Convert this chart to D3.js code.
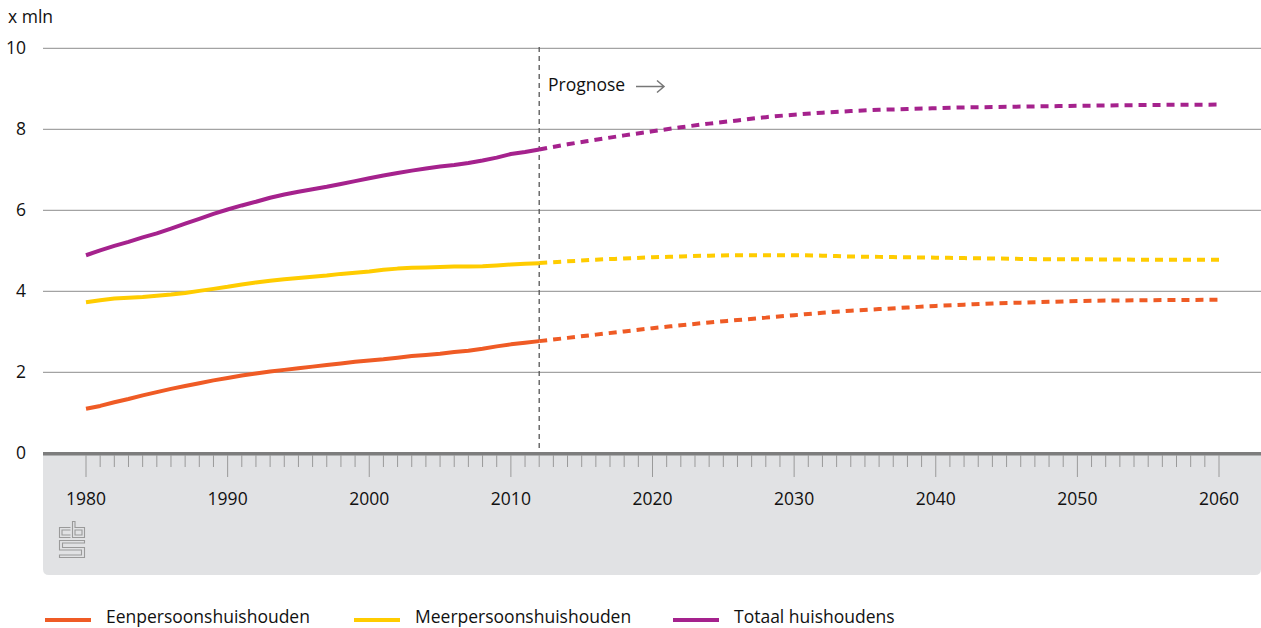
<!DOCTYPE html>
<html>
<head>
<meta charset="utf-8">
<script src="https://cdn.jsdelivr.net/npm/d3@7"></script>
<style>
  body { margin: 0; background: #fff; }
  svg { display: block; font-family: "Open Sans", "Noto Sans", sans-serif; }
</style>
</head>
<body>
<svg id="chart" width="1261" height="628"></svg>
<script>
// ---- data ----
const histYears = d3.range(1980, 2013);
const eenHist = [1.10,1.17,1.26,1.34,1.43,1.51,1.59,1.66,1.73,1.80,1.86,1.92,1.97,2.02,2.06,2.10,2.14,2.18,2.22,2.26,2.29,2.32,2.36,2.40,2.43,2.46,2.50,2.53,2.58,2.64,2.69,2.73,2.77];
const meerHist = [3.73,3.78,3.82,3.84,3.86,3.89,3.92,3.96,4.01,4.06,4.11,4.17,4.22,4.26,4.30,4.33,4.36,4.39,4.43,4.46,4.49,4.53,4.56,4.58,4.59,4.60,4.61,4.61,4.62,4.64,4.66,4.68,4.69];
const totHist = [4.89,5.01,5.12,5.22,5.33,5.43,5.55,5.67,5.79,5.91,6.02,6.12,6.21,6.31,6.39,6.46,6.52,6.58,6.65,6.72,6.79,6.86,6.92,6.98,7.03,7.08,7.12,7.17,7.23,7.30,7.39,7.44,7.50];

const progYears = [2012,2014,2016,2018,2020,2022,2024,2026,2028,2030,2032,2034,2036,2038,2040,2042,2044,2046,2048,2050,2055,2060];
const eenProg  = [2.77,2.85,2.93,3.01,3.09,3.16,3.23,3.29,3.35,3.41,3.47,3.52,3.56,3.60,3.64,3.67,3.70,3.72,3.74,3.76,3.78,3.79];
const meerProg = [4.70,4.74,4.78,4.81,4.84,4.86,4.88,4.89,4.89,4.89,4.88,4.86,4.85,4.84,4.83,4.82,4.81,4.80,4.79,4.79,4.78,4.78];
const totProg  = [7.50,7.63,7.74,7.85,7.95,8.05,8.14,8.22,8.30,8.36,8.41,8.45,8.48,8.50,8.52,8.54,8.55,8.56,8.57,8.58,8.60,8.61];

const seriesNames = ["Eenpersoonshuishouden","Meerpersoonshuishouden","Totaal huishoudens"];
const seriesColors = ["#ef5b25","#ffcc00","#a5228d"];
const yTicks = [0,2,4,6,8,10];
const xTicks = [1980,1990,2000,2010,2020,2030,2040,2050,2060];
const prognoseYear = 2012;
const yLabel = "x mln";
const prognoseLabel = "Prognose";

// ---- layout ----
const FS = 17.5;
const svg = d3.select("#chart");
const x = d3.scaleLinear().domain([1980, 2060]).range([86, 1219]);
const y = d3.scaleLinear().domain([0, 10]).range([453.3, 48.3]);
const left = 43, right = 1261;

// gray panel below axis
svg.append("path")
  .attr("d", () => {
    const t = 454, b = 575, r = 6;
    return `M${left},${t} H${right} V${b - r} Q${right},${b} ${right - r},${b} H${left + r} Q${left},${b} ${left},${b - r} Z`;
  })
  .attr("fill", "#e1e2e4");

// gridlines
svg.append("g").selectAll("line").data(yTicks.filter(d => d > 0)).join("line")
  .attr("x1", left).attr("x2", right)
  .attr("y1", d => y(d)).attr("y2", d => y(d))
  .attr("stroke", "#8c8c8c").attr("stroke-width", 1);

// y labels
svg.append("g").selectAll("text").data(yTicks).join("text")
  .attr("x", 26).attr("y", d => y(d) + 6)
  .attr("text-anchor", "end")
  .attr("font-size", FS).attr("fill", "#111")
  .text(d => d);
svg.append("text").attr("x", 8).attr("y", 23).attr("font-size", FS).attr("fill", "#111").text(yLabel);

// x axis line
svg.append("rect").attr("x", left).attr("y", 452).attr("width", right - left).attr("height", 3.5).attr("fill", "#7d7d7d");

// ticks
const allYears = d3.range(1980, 2061);
svg.append("g").selectAll("line").data(allYears).join("line")
  .attr("x1", d => x(d)).attr("x2", d => x(d))
  .attr("y1", 455).attr("y2", d => d % 10 === 0 ? 477 : 467)
  .attr("stroke", "#9a9a9a").attr("stroke-width", 1);

svg.append("g").selectAll("text").data(xTicks).join("text")
  .attr("x", d => x(d)).attr("y", 505)
  .attr("text-anchor", "middle")
  .attr("font-size", FS).attr("fill", "#111")
  .text(d => d);

// cbs logo (simple outline)
const logo = svg.append("g").attr("fill", "none").attr("stroke", "#9a9a9a").attr("stroke-width", 1.1);
// c
logo.append("path").attr("d", "M70.5,527.5 H59.5 V537.5 H70.5 M70.5,530 H62 V535 H70.5");
// b
logo.append("path").attr("d", "M72.5,521.5 V537.5 H84.5 V527.5 H75 V521.5 Z M75,530 H82 V535 H75 Z");
// s
logo.append("path").attr("d", "M84.5,540.5 H59.5 V550 H81.5 V555 H59.5 V557.5 H84.5 V547.5 H62.5 V543 H84.5 Z");

// prognose marker
svg.append("line")
  .attr("x1", x(prognoseYear)).attr("x2", x(prognoseYear))
  .attr("y1", 47).attr("y2", 452)
  .attr("stroke", "#555").attr("stroke-width", 1.3).attr("stroke-dasharray", "5,4");
svg.append("text").attr("x", 548).attr("y", 91).attr("font-size", FS).attr("fill", "#111").text(prognoseLabel);
svg.append("path").attr("d", "M636,86.5 H664 M657,80.5 L664,86.5 L657,92.5")
  .attr("fill", "none").attr("stroke", "#777").attr("stroke-width", 1.5);

// lines
const line = d3.line().x(d => x(d[0])).y(d => y(d[1]));
const hist = [eenHist, meerHist, totHist];
const prog = [eenProg, meerProg, totProg];
hist.forEach((vals, i) => {
  svg.append("path")
    .datum(histYears.map((yr, j) => [yr, vals[j]]))
    .attr("d", line)
    .attr("fill", "none").attr("stroke", seriesColors[i]).attr("stroke-width", 4)
    .attr("stroke-linejoin", "round");
});
prog.forEach((vals, i) => {
  svg.append("path")
    .datum(progYears.map((yr, j) => [yr, vals[j]]))
    .attr("d", d3.line().curve(d3.curveMonotoneX).x(d => x(d[0])).y(d => y(d[1])))
    .attr("fill", "none").attr("stroke", seriesColors[i]).attr("stroke-width", 4)
    .attr("stroke-dasharray", "8,6");
});

// legend
const legendX = [45, 354, 673];
const lg = svg.append("g").selectAll("g").data(seriesNames).join("g")
  .attr("transform", (d, i) => `translate(${legendX[i]},620)`);
lg.append("line").attr("x1", 0).attr("x2", 46).attr("y1", 0).attr("y2", 0)
  .attr("stroke", (d, i) => seriesColors[i]).attr("stroke-width", 4);
lg.append("text").attr("x", 61).attr("y", 3).attr("font-size", FS).attr("fill", "#111").text(d => d);
</script>
</body>
</html>
